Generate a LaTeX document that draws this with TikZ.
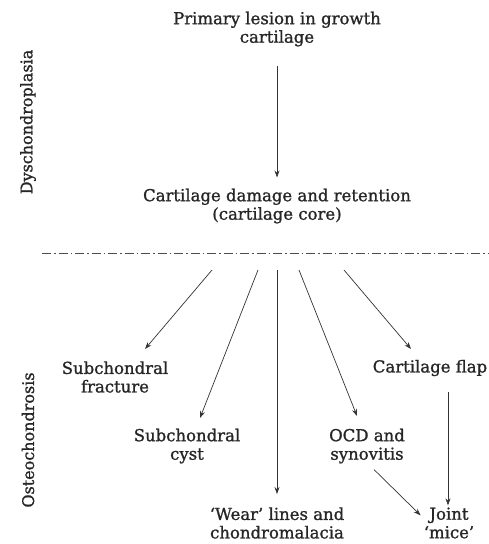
\documentclass[tikz,border=0pt]{standalone}
\usepackage{fontspec}
\setmainfont[FakeBold=1.2]{DejaVu Serif}
\usetikzlibrary{arrows.meta,calc}
\begin{document}
\begin{tikzpicture}[x=1pt,y=-1pt,
  lbl/.style={align=center,font=\fontsize{16.5}{18.5}\selectfont,inner sep=0pt,text=black!85},
  side/.style={rotate=90,font=\fontsize{16}{18}\selectfont,inner sep=0pt,text=black!85},
  arr/.style={-{Stealth[length=7pt,width=5pt]},line width=0.7pt,black!80}]
\useasboundingbox (0,0) rectangle (488,544);
\node[lbl] (prim) at (277,29) {Primary lesion in growth\\cartilage};
\node[lbl] (dam) at (277,206) {Cartilage damage and retention\\(cartilage core)};
\node[side] (dys) at (28,122) {Dyschondroplasia};
\node[side] (ost) at (28,440) {Osteochondrosis};
\coordinate (L0) at (42,253);
\coordinate (L1) at (488,253);
\draw[line width=0.6pt,black!70,dash pattern=on 9pt off 3pt on 1.5pt off 3pt] (L0) -- (L1);
\node[lbl] (frac) at (115,377) {Subchondral\\fracture};
\node[lbl] (cyst) at (187,446) {Subchondral\\cyst};
\node[lbl] (wear) at (277,523) {`Wear' lines and\\chondromalacia};
\node[lbl] (ocd) at (367,446) {OCD and\\synovitis};
\node[lbl] (flap) at (430,368) {Cartilage flap};
\node[lbl] (mice) at (449,523) {Joint\\`mice'};
\coordinate (s1) at (212,270);
\coordinate (s2) at (258,270);
\coordinate (s3) at (277,270);
\coordinate (s4) at (299,270);
\coordinate (s5) at (344,270);
\coordinate (t1) at (145,349);
\coordinate (t2) at (200,418);
\coordinate (t3) at (277,494);
\coordinate (t4) at (357,416);
\coordinate (t5) at (411,349);
\draw[arr] ($(prim.south)+(0,19)$) -- ($(dam.north)+(0,-11)$);
\draw[arr] (s1) -- (t1);
\draw[arr] (s2) -- (t2);
\draw[arr] (s3) -- (t3);
\draw[arr] (s4) -- (t4);
\draw[arr] (s5) -- (t5);
\draw[arr] ($(flap.south -| mice.north)+(-1,16)$) -- ($(mice.north)+(-1,-2)$);
\draw[arr] ($(ocd.south)+(7,6)$) -- ($(mice.north west)+(-3,8)$);
\end{tikzpicture}
\end{document}
